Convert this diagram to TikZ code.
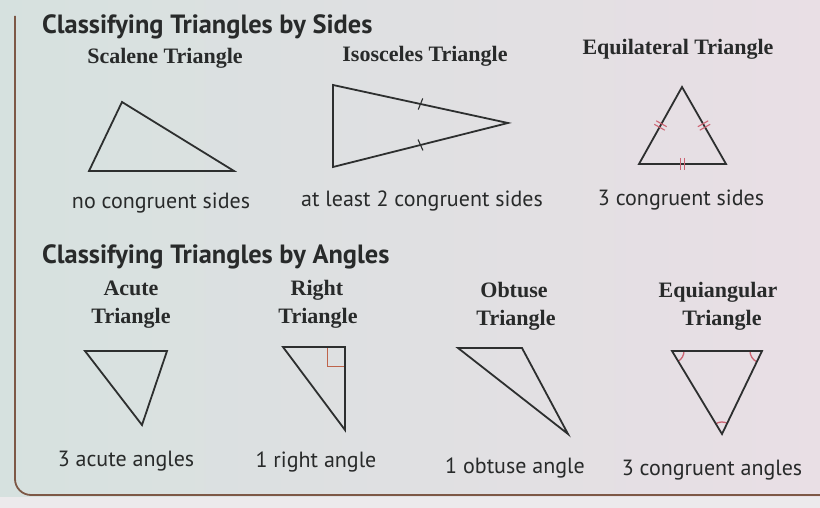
\documentclass[tikz,border=0pt]{standalone}
\usepackage{fontspec}
\setmainfont{Liberation Serif}
\newfontfamily\headfont{PT Sans}
\usetikzlibrary{calc,angles}
\definecolor{bgL}{RGB}{214,225,223}
\definecolor{bgR}{RGB}{233,223,229}
\definecolor{bgLow}{RGB}{236,234,236}
\definecolor{ink}{RGB}{40,42,42}
\definecolor{lineink}{RGB}{45,47,47}
\definecolor{framebrown}{RGB}{125,88,70}
\definecolor{markpink}{RGB}{205,100,115}
\definecolor{rightred}{RGB}{190,100,75}
\tikzset{
  heading/.style={font=\headfont\bfseries\fontsize{26.4}{28}\selectfont, text=ink, anchor=base west, inner sep=0pt},
  title/.style={font=\bfseries\fontsize{22}{24}\selectfont, text=ink, anchor=base, inner sep=0pt, align=center},
  label/.style={font=\headfont\fontsize{22}{24}\selectfont, text=ink, anchor=base, inner sep=0pt},
  tri/.style={draw=lineink, line width=1.8pt, line join=miter},
  tick/.style={draw=markpink, line width=1.1pt},
  blacktick/.style={draw=lineink, line width=1.1pt},
  anglemark/.style={draw=markpink, line width=1.3pt, angle radius=12pt},
}
\begin{document}
\begin{tikzpicture}[x=1pt,y=-1pt]
\useasboundingbox (0,0) rectangle (820,508);
\shade[left color=bgL, right color=bgR] (0,0) rectangle (820,508);
\fill[bgLow] (0,497) rectangle (820,508);
% frame
\draw[framebrown, line width=1.8pt, rounded corners=16pt] (15,16) -- (15,495) -- (820,495);

% headings
\node[heading] (h1) at (42,34) {Classifying Triangles by Sides};
\node[heading] (h2) at (42,263) {Classifying Triangles by Angles};

% sides titles
\node[title] (t1) at (165,64) {Scalene Triangle};
\node[title] (t2) at (425,62) {Isosceles Triangle};
\node[title] (t3) at (678,55) {Equilateral Triangle};

% scalene
\coordinate (sA) at (122,102);
\coordinate (sB) at (89,171);
\coordinate (sC) at (234,171);
\draw[tri] (sA) -- (sB) -- (sC) -- cycle;

% isosceles
\coordinate (iA) at (333,85);
\coordinate (iB) at (333,167);
\coordinate (iC) at (508,123);
\draw[tri] (iA) -- (iB) -- (iC) -- cycle;
\coordinate (im1) at ($(iA)!0.5!(iC)$);
\coordinate (im2) at ($(iB)!0.5!(iC)$);
\draw[blacktick] ($(im1)!6pt!80:(iC)$) -- ($(im1)!6pt!-100:(iC)$);
\draw[blacktick] ($(im2)!6pt!100:(iC)$) -- ($(im2)!6pt!-80:(iC)$);

% equilateral
\coordinate (eA) at (682,87);
\coordinate (eB) at (639,164);
\coordinate (eC) at (726,164);
\draw[tri] (eA) -- (eB) -- (eC) -- cycle;
\foreach \p/\q in {eA/eB, eA/eC, eB/eC}{
  \coordinate (m) at ($(\p)!0.5!(\q)$);
  \coordinate (m1) at ($(m)!2pt!(\q)$);
  \coordinate (m2) at ($(m)!-2pt!(\q)$);
  \draw[tick] ($(m1)!6pt!90:(\q)$) -- ($(m1)!6pt!-90:(\q)$);
  \draw[tick] ($(m2)!6pt!90:(\q)$) -- ($(m2)!6pt!-90:(\q)$);
}

% side labels
\node[label] (l1) at (161,209) {no congruent sides};
\node[label] (l2) at (422,207) {at least 2 congruent sides};
\node[label] (l3) at (681,205) {3 congruent sides};

% angle titles
\node[title] (a1) at (131,295) {Acute};
\node[title] (a1b) at (131,323) {Triangle};
\node[title] (a2) at (317,295) {Right};
\node[title] (a2b) at (318,323) {Triangle};
\node[title] (a3) at (514,297) {Obtuse};
\node[title] (a3b) at (516,325) {Triangle};
\node[title] (a4) at (718,297) {Equiangular};
\node[title] (a4b) at (722,325) {Triangle};

% acute
\coordinate (aA) at (85,351);
\coordinate (aB) at (167,351);
\coordinate (aC) at (142,425);
\draw[tri] (aA) -- (aB) -- (aC) -- cycle;

% right
\coordinate (rA) at (283,347);
\coordinate (rB) at (345,347);
\coordinate (rC) at (345,430);
\draw[rightred, line width=1pt] (327,347) -- (327,366) -- (345,366);
\draw[tri] (rA) -- (rB) -- (rC) -- cycle;

% obtuse
\coordinate (oA) at (458,348);
\coordinate (oB) at (522,348);
\coordinate (oC) at (568,434);
\draw[tri] (oA) -- (oB) -- (oC) -- cycle;

% equiangular
\coordinate (qA) at (672,351);
\coordinate (qB) at (762,351);
\coordinate (qC) at (722,434);
\pic[anglemark] {angle = qC--qA--qB};
\pic[anglemark] {angle = qA--qB--qC};
\pic[anglemark] {angle = qB--qC--qA};
\draw[tri] (qA) -- (qB) -- (qC) -- cycle;

% angle labels
\node[label] (b1) at (126,466) {3 acute angles};
\node[label] (b2) at (316,467) {1 right angle};
\node[label] (b3) at (515,473) {1 obtuse angle};
\node[label] (b4) at (712,475) {3 congruent angles};
\end{tikzpicture}
\end{document}
